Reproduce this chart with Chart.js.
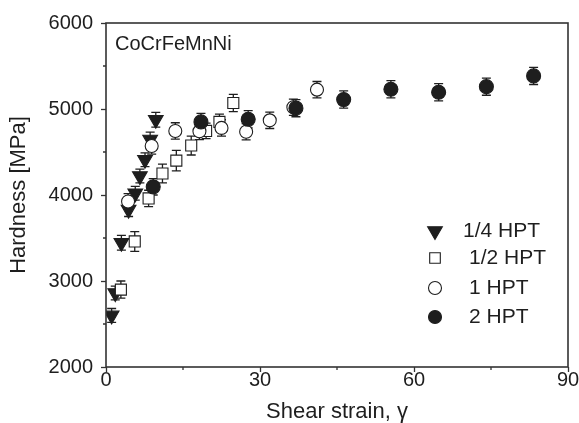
<!DOCTYPE html>
<html>
<head>
<meta charset="utf-8">
<style>
html,body{margin:0;padding:0;background:#fff;}
#wrap{width:579px;height:423px;position:relative;}
</style>
<script src="https://cdn.jsdelivr.net/npm/chart.js@4/dist/chart.umd.min.js"></script>
</head>
<body>
<div id="wrap"><canvas id="c" width="579" height="423"></canvas></div>
<script>
// ---- data ----
const seriesNames = ['1/4 HPT', '1/2 HPT', '1 HPT', '2 HPT'];

const strainQuarter   = [1.1, 1.8, 3.0, 4.4, 5.7, 6.6, 7.6, 8.6, 9.7];
const hardnessQuarter = [2600, 2860, 3445, 3830, 4020, 4220, 4410, 4645, 4875];
const errorQuarter    = [80, 80, 85, 80, 80, 80, 80, 85, 85];

const strainHalf   = [2.9, 5.6, 8.3, 11.0, 13.7, 16.6, 19.5, 22.1, 24.8];
const hardnessHalf = [2900, 3460, 3960, 4250, 4400, 4575, 4745, 4850, 5070];
const errorHalf    = [100, 115, 95, 110, 120, 110, 90, 90, 100];

const strainOne   = [4.3, 8.9, 13.5, 18.2, 22.5, 27.3, 31.9, 36.5, 41.1];
const hardnessOne = [3925, 4570, 4745, 4740, 4780, 4735, 4868, 5020, 5225];
const errorOne    = [90, 95, 95, 95, 95, 95, 95, 95, 95];

const strainTwo   = [9.2, 18.5, 27.7, 37.0, 46.3, 55.5, 64.8, 74.1, 83.3];
const hardnessTwo = [4095, 4850, 4880, 5010, 5110, 5230, 5195, 5260, 5385];
const errorTwo    = [95, 100, 100, 100, 100, 100, 100, 100, 100];

const xTickValues = [0, 30, 60, 90];
const xMinorValues = [15, 45, 75];
const yTickValues = [2000, 3000, 4000, 5000, 6000];
const yMinorValues = [2500, 3500, 4500, 5500];

const alloyLabel = 'CoCrFeMnNi';
const xTitle = 'Shear strain, \u03B3';
const yTitle = 'Hardness [MPa]';

// ---- styling ----
const INK = '#1e1e1e';
const AXIS = '#333333';
const FONT = "'Liberation Sans', Arial, Helvetica, sans-serif";

function toPoints(xs, ys) { return xs.map((x, i) => ({x: x, y: ys[i]})); }

const errorsByDataset = [errorQuarter, errorHalf, errorOne, errorTwo];

const markerStyles = [
  {pointStyle: 'triangle', rotation: 180, radius: 8.5, bg: INK, border: INK},
  {pointStyle: 'rect', rotation: 0, radius: 7.8, bg: '#ffffff', border: INK},
  {pointStyle: 'circle', rotation: 0, radius: 6.5, bg: '#ffffff', border: INK},
  {pointStyle: 'circle', rotation: 0, radius: 7, bg: INK, border: INK}
];

const seriesData = [
  toPoints(strainQuarter, hardnessQuarter),
  toPoints(strainHalf, hardnessHalf),
  toPoints(strainOne, hardnessOne),
  toPoints(strainTwo, hardnessTwo)
];

const datasets = seriesNames.map((name, i) => ({
  label: name,
  data: seriesData[i],
  showLine: false,
  pointStyle: markerStyles[i].pointStyle,
  rotation: markerStyles[i].rotation,
  pointRadius: markerStyles[i].radius,
  pointHoverRadius: markerStyles[i].radius,
  pointBackgroundColor: markerStyles[i].bg,
  pointBorderColor: markerStyles[i].border,
  pointBorderWidth: 1.1,
  order: 4 - i
}));

// error bars, minor ticks, frame, legend, annotation
const extrasPlugin = {
  id: 'extras',
  beforeDatasetsDraw(chart) {
    const ctx = chart.ctx;
    const ys = chart.scales.y;
    ctx.save();
    ctx.strokeStyle = INK;
    ctx.lineWidth = 1.3;
    chart.data.datasets.forEach((ds, di) => {
      const meta = chart.getDatasetMeta(di);
      const errs = errorsByDataset[di];
      meta.data.forEach((pt, j) => {
        const v = ds.data[j].y;
        const e = errs[j];
        const yTop = ys.getPixelForValue(v + e);
        const yBot = ys.getPixelForValue(v - e);
        const x = pt.x;
        ctx.beginPath();
        ctx.moveTo(x, yTop); ctx.lineTo(x, yBot);
        ctx.moveTo(x - 4.5, yTop); ctx.lineTo(x + 4.5, yTop);
        ctx.moveTo(x - 4.5, yBot); ctx.lineTo(x + 4.5, yBot);
        ctx.stroke();
      });
    });
    ctx.restore();
  },
  afterDraw(chart) {
    const ctx = chart.ctx;
    const a = chart.chartArea;
    const xs = chart.scales.x, ys = chart.scales.y;
    ctx.save();
    // frame
    ctx.strokeStyle = AXIS;
    ctx.lineWidth = 1.6;
    ctx.strokeRect(a.left, a.top, a.right - a.left, a.bottom - a.top);
    // minor ticks
    ctx.lineWidth = 1.3;
    ctx.beginPath();
    xMinorValues.forEach(v => {
      const px = xs.getPixelForValue(v);
      ctx.moveTo(px, a.bottom); ctx.lineTo(px, a.bottom + 3);
    });
    yMinorValues.forEach(v => {
      const py = ys.getPixelForValue(v);
      ctx.moveTo(a.left, py); ctx.lineTo(a.left - 3, py);
    });
    ctx.stroke();
    // alloy label
    ctx.fillStyle = INK;
    ctx.font = '20px ' + FONT;
    ctx.textAlign = 'left';
    ctx.textBaseline = 'middle';
    ctx.fillText(alloyLabel, a.left + 9, a.top + 21);
    // legend
    const legendX = a.left + 329;
    const legendTextX = [a.left + 357, a.left + 363, a.left + 363, a.left + 363];
    const legendY = [a.top + 208, a.top + 235, a.top + 265, a.top + 294];
    ctx.font = '21px ' + FONT;
    chart.data.datasets.forEach((ds, i) => {
      const st = markerStyles[i];
      ctx.fillStyle = st.bg;
      ctx.strokeStyle = st.border;
      ctx.lineWidth = 1.1;
      const r = st.pointStyle === 'rect' ? 7.5 : (st.pointStyle === 'triangle' ? 8.5 : 6.5);
      Chart.helpers.drawPoint(ctx, {pointStyle: st.pointStyle, rotation: st.rotation, radius: r, borderWidth: 1.1}, legendX, legendY[i]);
      ctx.fillStyle = INK;
      ctx.fillText(ds.label, legendTextX[i], legendY[i]);
    });
    ctx.restore();
  }
};

new Chart(document.getElementById('c'), {
  type: 'scatter',
  data: {datasets: datasets},
  options: {
    responsive: false,
    animation: false,
    devicePixelRatio: 1,
    layout: {padding: {top: 23, right: 11, left: 0, bottom: 0}},
    plugins: {legend: {display: false}, tooltip: {enabled: false}},
    scales: {
      x: {
        type: 'linear',
        min: 0, max: 90,
        afterBuildTicks: s => { s.ticks = xTickValues.map(v => ({value: v})); },
        afterFit: s => { s.height = 56; },
        grid: {drawOnChartArea: false, drawTicks: true, tickLength: 5, tickColor: AXIS, tickWidth: 1.3},
        border: {display: false},
        ticks: {color: INK, font: {family: FONT, size: 20, lineHeight: 1}, padding: -2, maxRotation: 0, callback: v => String(v)},
        title: {display: true, text: xTitle, color: INK, font: {family: FONT, size: 22, lineHeight: 1}, padding: {top: 0, bottom: 0}}
      },
      y: {
        type: 'linear',
        min: 2000, max: 6000,
        afterBuildTicks: s => { s.ticks = yTickValues.map(v => ({value: v})); },
        afterFit: s => { s.width = 106; },
        grid: {drawOnChartArea: false, drawTicks: true, tickLength: 5, tickColor: AXIS, tickWidth: 1.3},
        border: {display: false},
        ticks: {color: INK, font: {family: FONT, size: 20, lineHeight: 1}, padding: 8, callback: v => String(v)},
        title: {display: true, text: yTitle, color: INK, font: {family: FONT, size: 22, lineHeight: 1}, padding: {top: 8, bottom: 0}}
      }
    }
  },
  plugins: [extrasPlugin]
});
</script>
</body>
</html>
